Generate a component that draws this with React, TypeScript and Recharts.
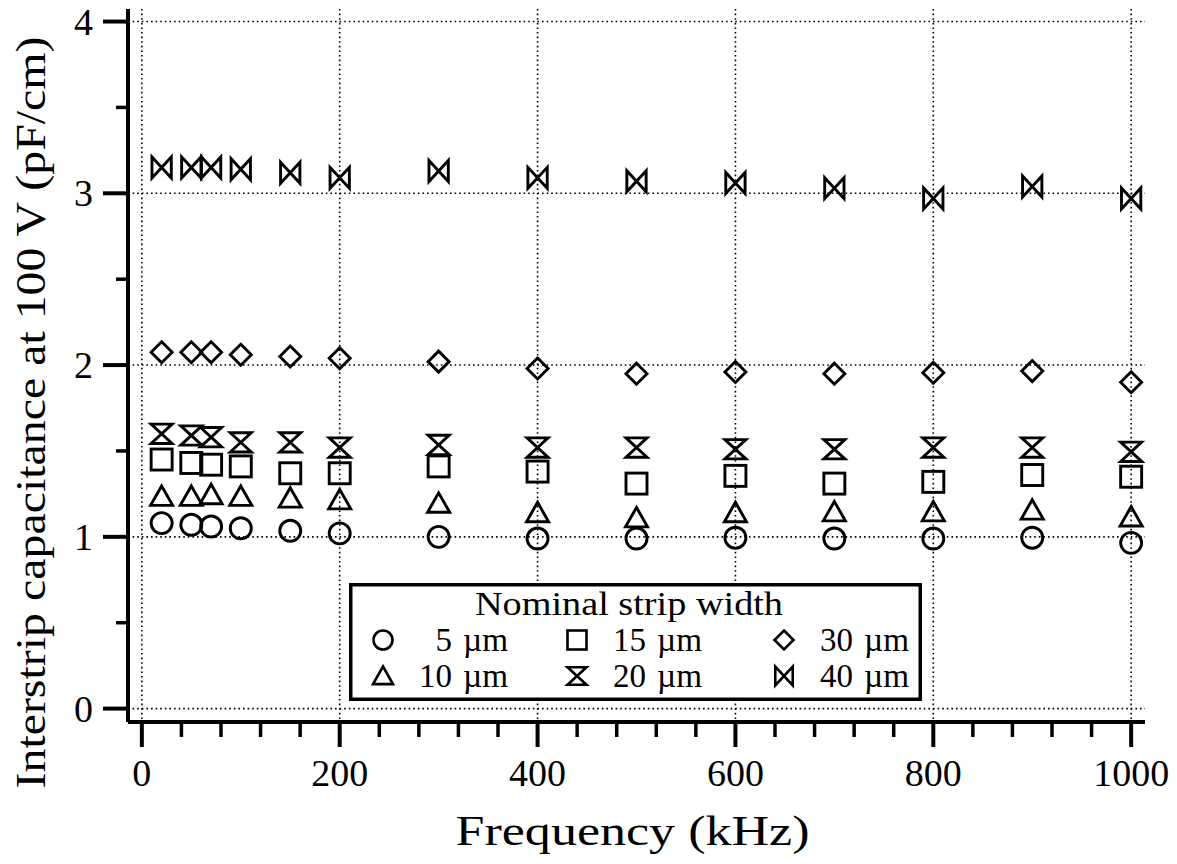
import React from 'react';
import { ScatterChart, Scatter, XAxis, YAxis, CartesianGrid, Legend } from 'recharts';

// ---- data ----
const FREQ_KHZ = [20, 50, 70, 100, 150, 200, 300, 400, 500, 600, 700, 800, 900, 1000];
const CAP_5UM = [1.08, 1.07, 1.06, 1.05, 1.035, 1.02, 1.0, 0.99, 0.99, 0.995, 0.99, 0.99, 0.995, 0.965];
const CAP_10UM = [1.235, 1.235, 1.245, 1.235, 1.225, 1.215, 1.195, 1.14, 1.11, 1.14, 1.145, 1.145, 1.155, 1.115];
const CAP_15UM = [1.45, 1.43, 1.42, 1.41, 1.37, 1.37, 1.41, 1.38, 1.31, 1.355, 1.31, 1.32, 1.36, 1.35];
const CAP_20UM = [1.6, 1.59, 1.58, 1.55, 1.55, 1.52, 1.535, 1.52, 1.52, 1.51, 1.51, 1.52, 1.52, 1.495];
const CAP_30UM = [2.075, 2.075, 2.075, 2.06, 2.05, 2.04, 2.02, 1.98, 1.95, 1.96, 1.95, 1.955, 1.965, 1.9];
const CAP_40UM = [3.15, 3.15, 3.15, 3.14, 3.12, 3.09, 3.13, 3.09, 3.07, 3.06, 3.03, 2.97, 3.04, 2.97];

const SERIES_WIDTHS = ['5', '10', '15', '20', '30', '40'];
const SERIES_SYMBOLS = ['circle', 'triangle', 'square', 'hourglass', 'diamond', 'bowtie'];
const SERIES_VALUES = [CAP_5UM, CAP_10UM, CAP_15UM, CAP_20UM, CAP_30UM, CAP_40UM];

const X_MAJOR = [0, 200, 400, 600, 800, 1000];
const X_TICKS = [0, 40, 80, 120, 160, 200, 240, 280, 320, 360, 400, 440, 480, 520, 560, 600, 640, 680, 720, 760, 800, 840, 880, 920, 960, 1000];
const Y_MAJOR = [0, 1, 2, 3, 4];
const Y_TICKS = [0, 0.5, 1, 1.5, 2, 2.5, 3, 3.5, 4];
const X_DOMAIN = [-14, 1014];
const Y_DOMAIN = [-0.078, 4.073];

const X_TITLE = 'Frequency (kHz)';
const Y_TITLE = 'Interstrip capacitance at 100 V (pF/cm)';
const LEGEND_TITLE = 'Nominal strip width';
const UNIT = 'µm';

const FONT = '"Liberation Serif", "Times New Roman", serif';
const INK = '#000';

const Marker = ({ kind, cx, cy, s, sw }: { kind: string; cx: number; cy: number; s: number; sw: number }) => {
  const common = { fill: 'none', stroke: INK, strokeWidth: sw, strokeLinejoin: 'miter' as const };
  switch (kind) {
    case 'circle':
      return <circle cx={cx} cy={cy} r={s} {...common} />;
    case 'square':
      return <rect x={cx - s} y={cy - s} width={2 * s} height={2 * s} {...common} />;
    case 'diamond':
      return <path d={`M${cx},${cy - s} L${cx + s},${cy} L${cx},${cy + s} L${cx - s},${cy} Z`} {...common} />;
    case 'triangle':
      return <path d={`M${cx},${cy - s} L${cx + s * 1.05},${cy + s * 0.85} L${cx - s * 1.05},${cy + s * 0.85} Z`} {...common} />;
    case 'hourglass':
      return <path d={`M${cx - s},${cy - s * 0.92} L${cx + s},${cy - s * 0.92} L${cx - s},${cy + s * 0.92} L${cx + s},${cy + s * 0.92} Z`} {...common} />;
    case 'bowtie':
    default:
      return <path d={`M${cx - s * 0.92},${cy - s} L${cx - s * 0.92},${cy + s} L${cx + s * 0.92},${cy - s} L${cx + s * 0.92},${cy + s} Z`} {...common} />;
  }
};

const XTick = (props: any) => {
  const { x, y, payload } = props;
  const v = payload.value;
  const major = X_MAJOR.includes(v);
  return (
    <g>
      <line x1={x} x2={x} y1={y} y2={y + (major ? 25 : 15)} stroke={INK} strokeWidth={major ? 4 : 3.5} />
      {major && (
        <text x={x} y={y + 64} textAnchor="middle" fontSize={38} fontFamily={FONT} fill={INK}>
          {v}
        </text>
      )}
    </g>
  );
};

const YTick = (props: any) => {
  const { x, y, payload } = props;
  const v = payload.value;
  const major = Y_MAJOR.includes(v);
  return (
    <g>
      <line x1={x} x2={x - (major ? 25 : 12)} y1={y} y2={y} stroke={INK} strokeWidth={major ? 4 : 3.5} />
      {major && (
        <text x={x - 35} y={y + 13} textAnchor="end" fontSize={38} fontFamily={FONT} fill={INK}>
          {v}
        </text>
      )}
    </g>
  );
};

const LegendBox = () => {
  const colX = [34, 228, 435];
  const rowY = [57, 93];
  return (
    <svg width={573} height={118} style={{ display: 'block', overflow: 'visible' }}>
      <rect x={1.75} y={1.75} width={569.5} height={114.5} fill="#fff" stroke={INK} strokeWidth={3.5} />
      <text x={280} y={32} textAnchor="middle" fontSize={34} fontFamily={FONT} fill={INK} textLength={308} lengthAdjust="spacingAndGlyphs">
        {LEGEND_TITLE}
      </text>
      {SERIES_WIDTHS.map((w, i) => {
        const cx = colX[Math.floor(i / 2)];
        const cy = rowY[i % 2];
        return (
          <g key={w}>
            <Marker kind={SERIES_SYMBOLS[i]} cx={cx} cy={cy} s={9.5} sw={2.6} />
            <text x={cx + 69} y={cy + 11} textAnchor="end" fontSize={33} fontFamily={FONT} fill={INK}>
              {w}
            </text>
            <text x={cx + 80} y={cy + 11} textAnchor="start" fontSize={33} fontFamily={FONT} fill={INK} textLength={45} lengthAdjust="spacingAndGlyphs">
              {UNIT}
            </text>
          </g>
        );
      })}
    </svg>
  );
};

export default function App() {
  return (
    <div style={{ position: 'absolute', left: 0, top: 0, width: 1177, height: 864, background: '#fff' }}>
      <ScatterChart width={1177} height={864} margin={{ top: 9, right: 32, bottom: 0, left: 0 }}>
        <CartesianGrid
          xAxisId="x"
          yAxisId="y"
          horizontalValues={Y_MAJOR}
          verticalValues={X_MAJOR}
          stroke={INK}
          strokeWidth={1.6}
          strokeDasharray="1.6 3"
        />
        <XAxis
          xAxisId="x"
          dataKey="x"
          type="number"
          domain={X_DOMAIN}
          allowDataOverflow
          ticks={X_TICKS}
          interval={0}
          height={142}
          tickSize={0}
          tickMargin={0}
          tickLine={false}
          tick={<XTick />}
          axisLine={{ stroke: INK, strokeWidth: 4 }}
          label={(p: any) => {
            const vb = p.viewBox;
            return (
              <text
                x={vb.x + vb.width / 2 - 4}
                y={vb.y + 123}
                textAnchor="middle"
                fontSize={43}
                fontFamily={FONT}
                fill={INK}
                textLength={354}
                lengthAdjust="spacingAndGlyphs"
              >
                {X_TITLE}
              </text>
            );
          }}
        />
        <XAxis
          xAxisId="top"
          orientation="top"
          type="number"
          domain={X_DOMAIN}
          allowDataOverflow
          height={0}
          tick={false}
          tickLine={false}
          axisLine={{ stroke: INK, strokeWidth: 4 }}
        />
        <YAxis
          yAxisId="y"
          dataKey="y"
          type="number"
          domain={Y_DOMAIN}
          allowDataOverflow
          ticks={Y_TICKS}
          interval={0}
          width={128}
          tickSize={0}
          tickMargin={0}
          tickLine={false}
          tick={<YTick />}
          axisLine={{ stroke: INK, strokeWidth: 4 }}
          label={(p: any) => {
            const vb = p.viewBox;
            const cx = vb.x + 31;
            const cy = vb.y + vb.height / 2 + 47;
            return (
              <text
                x={cx}
                y={cy}
                transform={`rotate(-90 ${cx} ${cy})`}
                textAnchor="middle"
                dominantBaseline="central"
                fontSize={42}
                fontFamily={FONT}
                fill={INK}
                textLength={752}
                lengthAdjust="spacingAndGlyphs"
              >
                {Y_TITLE}
              </text>
            );
          }}
        />
        <YAxis
          yAxisId="right"
          orientation="right"
          type="number"
          domain={Y_DOMAIN}
          allowDataOverflow
          width={0}
          tick={false}
          tickLine={false}
          axisLine={{ stroke: INK, strokeWidth: 4 }}
        />
        {SERIES_WIDTHS.map((w, i) => (
          <Scatter
            key={w}
            name={`${w} ${UNIT}`}
            xAxisId="x"
            yAxisId="y"
            data={FREQ_KHZ.map((f, j) => ({ x: f, y: SERIES_VALUES[i][j] }))}
            isAnimationActive={false}
            shape={(p: any) => <Marker kind={SERIES_SYMBOLS[i]} cx={p.cx} cy={p.cy} s={10.5} sw={2.9} />}
          />
        ))}
        <Legend
          layout="horizontal"
          verticalAlign="middle"
          align="center"
          wrapperStyle={{ position: 'absolute', left: 349, top: 583, width: 573, height: 118 }}
          content={() => <LegendBox />}
        />
      </ScatterChart>
    </div>
  );
}
